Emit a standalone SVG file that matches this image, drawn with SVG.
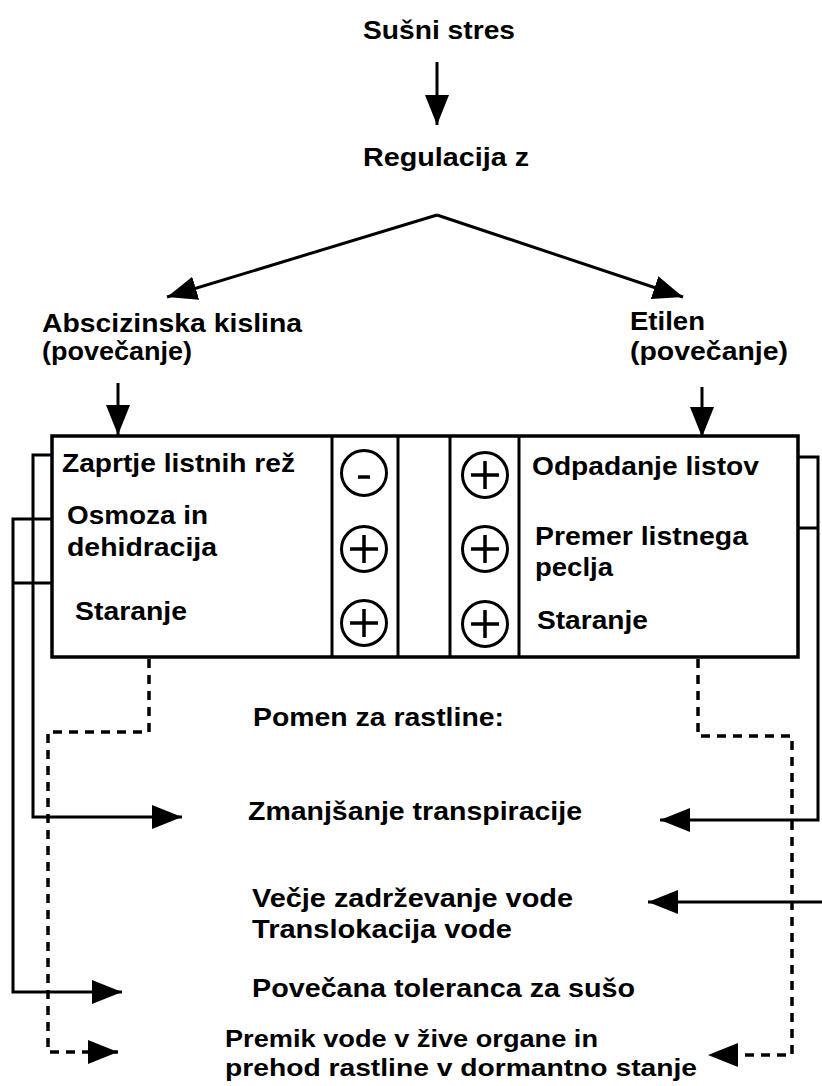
<svg xmlns="http://www.w3.org/2000/svg" width="822" height="1086" viewBox="0 0 822 1086">
<style>
text{font-family:"Liberation Sans",Arial,sans-serif;font-weight:bold;font-size:25px;fill:#000}
.sm{font-size:24px}
.ln{fill:none;stroke:#000;stroke-width:3}
.ds{fill:none;stroke:#000;stroke-width:3.5;stroke-dasharray:9 7}
.box{fill:#fff;stroke:#000;stroke-width:3.5}
.sep{stroke:#000;stroke-width:3}
.c{fill:#fff;stroke:#000;stroke-width:3}
.sg{stroke:#000;stroke-width:3.5}
</style>
<defs>
<marker id="ah" markerUnits="userSpaceOnUse" markerWidth="30" markerHeight="24" refX="30" refY="12" orient="auto">
<path d="M0,0 L30,12 L0,24 Z" fill="#000"/>
</marker>
</defs>
<rect width="822" height="1086" fill="#fff"/>
<g id="connectors">
<path class="ln" d="M437,62 V125" marker-end="url(#ah)"/>
<path class="ln" d="M437,215 L167,297" marker-end="url(#ah)"/>
<path class="ln" d="M437,215 L683,297" marker-end="url(#ah)"/>
<path class="ln" d="M118,383 V435" marker-end="url(#ah)"/>
<path class="ln" d="M702,387 V437" marker-end="url(#ah)"/>
<path class="ln" d="M52,455 H33 V817 H182" marker-end="url(#ah)"/>
<path class="ln" d="M52,519 H13 V992 H122" marker-end="url(#ah)"/>
<path class="ln" d="M52,583 H13"/>
<path class="ln" d="M798,457 H818 V820 H660" marker-end="url(#ah)"/>
<path class="ln" d="M798,528 H818"/>
<path class="ln" d="M822,902 H648" marker-end="url(#ah)"/>
<path class="ds" d="M149,659 V732 H48 V1052 H118" marker-end="url(#ah)"/>
<path class="ds" d="M698,659 V736 H792 V1055 H708" marker-end="url(#ah)"/>
</g>
<g id="top">
<text x="363" y="39" textLength="152" lengthAdjust="spacingAndGlyphs">Sušni stres</text>
<text x="363" y="166" textLength="166" lengthAdjust="spacingAndGlyphs">Regulacija z</text>
</g>
<g id="aba">
<text x="42" y="332" textLength="260" lengthAdjust="spacingAndGlyphs">Abscizinska kislina</text>
<text x="42" y="360" textLength="150" lengthAdjust="spacingAndGlyphs">(povečanje)</text>
</g>
<g id="etilen">
<text x="630" y="330" textLength="75" lengthAdjust="spacingAndGlyphs">Etilen</text>
<text x="630" y="360" textLength="158" lengthAdjust="spacingAndGlyphs">(povečanje)</text>
</g>
<g id="box">
<rect class="box" x="52" y="436" width="746" height="221"/>
<line class="sep" x1="332" y1="436" x2="332" y2="657"/>
<line class="sep" x1="398" y1="436" x2="398" y2="657"/>
<line class="sep" x1="450" y1="436" x2="450" y2="657"/>
<line class="sep" x1="519" y1="436" x2="519" y2="657"/>
<text x="62" y="472" textLength="233" lengthAdjust="spacingAndGlyphs">Zaprtje listnih rež</text>
<text x="67" y="524" textLength="141" lengthAdjust="spacingAndGlyphs">Osmoza in</text>
<text x="67" y="556" textLength="150" lengthAdjust="spacingAndGlyphs">dehidracija</text>
<text x="75" y="620" textLength="112" lengthAdjust="spacingAndGlyphs">Staranje</text>
<text x="532" y="475" textLength="227" lengthAdjust="spacingAndGlyphs">Odpadanje listov</text>
<text x="535" y="545" textLength="213" lengthAdjust="spacingAndGlyphs">Premer listnega</text>
<text x="535" y="576" textLength="78" lengthAdjust="spacingAndGlyphs">peclja</text>
<text x="537" y="629" textLength="111" lengthAdjust="spacingAndGlyphs">Staranje</text>
<circle class="c" cx="364" cy="473" r="22.5"/>
<line class="sg" x1="358" y1="477" x2="370" y2="477" stroke-width="5"/>
<circle class="c" cx="364" cy="549" r="22.5"/>
<path class="sg" d="M350,549 H378 M364,535 V563"/>
<circle class="c" cx="364" cy="623" r="22.5"/>
<path class="sg" d="M350,623 H378 M364,609 V637"/>
<circle class="c" cx="485" cy="475" r="22.5"/>
<path class="sg" d="M471,475 H499 M485,461 V489"/>
<circle class="c" cx="485" cy="549" r="22.5"/>
<path class="sg" d="M471,549 H499 M485,535 V563"/>
<circle class="c" cx="485" cy="624" r="22.5"/>
<path class="sg" d="M471,624 H499 M485,610 V638"/>
</g>
<g id="effects">
<text x="253" y="726" textLength="251" lengthAdjust="spacingAndGlyphs">Pomen za rastline:</text>
<text x="248" y="820" textLength="334" lengthAdjust="spacingAndGlyphs">Zmanjšanje transpiracije</text>
<text x="252" y="907" textLength="321" lengthAdjust="spacingAndGlyphs">Večje zadrževanje vode</text>
<text x="252" y="938" textLength="260" lengthAdjust="spacingAndGlyphs">Translokacija vode</text>
<text x="252" y="997" textLength="383" lengthAdjust="spacingAndGlyphs">Povečana toleranca za sušo</text>
<text class="sm" x="225" y="1047" textLength="373" lengthAdjust="spacingAndGlyphs">Premik vode v žive organe in</text>
<text class="sm" x="225" y="1076" textLength="472" lengthAdjust="spacingAndGlyphs">prehod rastline v dormantno stanje</text>
</g>
</svg>
